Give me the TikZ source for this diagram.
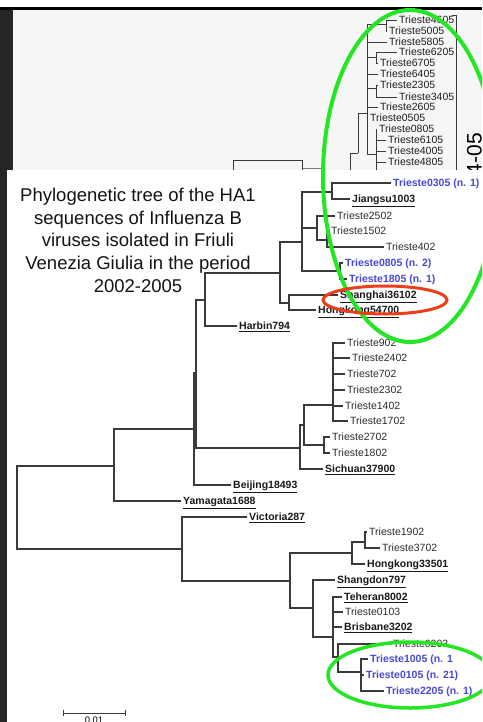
\documentclass[tikz,border=0pt]{standalone}
\usepackage{fontspec}
\setmainfont{Liberation Sans}
\definecolor{slidegray}{RGB}{246,246,246}
\definecolor{edgedark}{RGB}{38,38,38}
\definecolor{treeline}{RGB}{58,58,58}
\definecolor{labelgray}{RGB}{45,45,45}
\definecolor{isoblue}{RGB}{72,72,214}
\definecolor{ringgreen}{RGB}{36,230,36}
\definecolor{ringred}{RGB}{236,62,24}
\begin{document}
\begin{tikzpicture}[x=1pt,y=-1pt,
  branch/.style={draw=treeline, line width=1.2pt},
  bgbranch/.style={draw=treeline, line width=0.9pt},
  leaf/.style={anchor=west, inner xsep=2pt, inner ysep=0pt, text height=7.5pt, text depth=0pt,
    font=\fontsize{10.5}{12}\selectfont, text=labelgray},
  refstrain/.style={leaf, font=\fontsize{10.5}{12}\selectfont\bfseries, text=black!90},
  isolate/.style={leaf, font=\fontsize{10.5}{12}\selectfont\bfseries, text=isoblue},
  ring/.style={draw=ringgreen, line width=4pt},
]
\useasboundingbox (0,0) rectangle (482,722);
\clip (0,0) rectangle (482,722);

% slide background behind the panel
\fill[white] (0,0) rectangle (482,722);
\fill[black] (0,7) rectangle (482,10);
\fill[slidegray] (13,10) rectangle (482,170);
\fill[edgedark] (0,10) rectangle (13,722);

% tree of the 2004-05 season (behind the panel)
\foreach \n/\x/\y/\t in {
  b4605/397/20/Trieste4605, b5005/387/31/Trieste5005, b5805/387/42/Trieste5805,
  b6205/397/52/Trieste6205, b6705/378/63/Trieste6705, b6405/378/74/Trieste6405,
  b2305/378/85/Trieste2305, b3405/397/97/Trieste3405, b2605/378/107/Trieste2605,
  b0505/368/118/Trieste0505, b0805/377/129/Trieste0805, b6105/386/140/Trieste6105,
  b4005/386/151/Trieste4005, b4805/386/162/Trieste4805}
  \node[leaf, text=black!88] (\n) at (\x,\y) {\t};
\coordinate (t0) at (350,176);
\coordinate (t1) at (358,153);
\coordinate (t2) at (367,113);
\coordinate (tB) at (386,24);
\coordinate (tC) at (376,57);
\coordinate (tD) at (376,88);
\coordinate (tE) at (376,154);
\coordinate (tEdown) at (376,176);
\foreach \p/\c in {t0/t1, t1/t2, t2/tB, t2/b5805, t2/tC, t2/b6405, t2/tD, t2/b2605,
  t2/b0505, t2/tE, tB/b4605, tB/b5005, tC/b6205, tC/b6705, tD/b2305, tD/b3405,
  tE/b0805, tE/b6105, tE/b4005, tE/b4805}
  \draw[bgbranch] (\p) |- (\c);
\draw[bgbranch] (tE) -- (tEdown);
\node[draw=treeline, line width=0.9pt, minimum width=69pt, minimum height=20pt,
  anchor=north west, inner sep=0] (legendbox) at (233,160) {};
\coordinate (legendtail) at (322,168);
\draw[bgbranch, draw=gray] (legendbox.east |- legendtail) -- (legendtail);
\coordinate (brackettop) at (452,15);
\coordinate (bracketfoot) at (456,176);
\draw[bgbranch] (brackettop) -| (bracketfoot);
\node[rotate=90, anchor=south east, inner sep=0, font=\fontsize{21}{24}\selectfont]
  (season) at (482,133) {4-05};

% front panel
\fill[white] (7,170) rectangle (482,722);

% title
\node[align=center, anchor=north, inner sep=0, text=black!92,
  font=\fontsize{18.5}{22.6}\selectfont] (title) at (138,188)
  {Phylogenetic tree of the HA1\\sequences of Influenza B\\viruses isolated in Friuli\\Venezia Giulia in the period\\2002-2005};

% leaves of the HA1 tree
\foreach \n/\x/\y/\t in {
  l0305/391/183/{Trieste0305 (n. 1)}, l0805/343/263/{Trieste0805 (n. 2)},
  l1805/347/279/{Trieste1805 (n. 1)}, l1005/368/659/{Trieste1005 (n. 1},
  l0105/364/675/{Trieste0105 (n. 21)}, l2205/384/691/{Trieste2205 (n. 1)}}
  \node[isolate] (\n) at (\x,\y) {\t};
\foreach \n/\x/\y/\t in {
  lJiangsu/350/199/Jiangsu1003, lShanghai/338/295/Shanghai36102,
  lHKa/316/310/Hongkong54700, lHarbin/237/326/Harbin794,
  lSichuan/323/469/Sichuan37900, lBeijing/231/485/Beijing18493,
  lYamagata/181/501/Yamagata1688, lVictoria/247/517/Victoria287,
  lHKb/365/564/Hongkong33501, lShangdon/335/580/Shangdon797,
  lTeheran/342/597/Teheran8002, lBrisbane/342/627/Brisbane3202}
  \node[refstrain] (\n) at (\x,\y) {\underline{\t}};
\foreach \n/\x/\y/\t in {
  l2502/335/216/Trieste2502, l1502/329/231/Trieste1502, l402/384/247/Trieste402,
  l902/345/343/Trieste902, l2402/350/358/Trieste2402, l702/345/374/Trieste702,
  l2302/345/390/Trieste2302, l1402/343/406/Trieste1402, l1702/348/421/Trieste1702,
  l2702/330/437/Trieste2702, l1802/330/453/Trieste1802, l1902/367/532/Trieste1902,
  l3702/380/548/Trieste3702, l0103/343/612/Trieste0103, l0203/391/644/Trieste0203}
  \node[leaf] (\n) at (\x,\y) {\t};

% internal nodes
\foreach \n/\x/\y in {
  nRoot/17/507, nC/114/466, nA/194/429, nB/196/373, nH/205/300, nJ/280/273,
  nK/302/242, nL/332/192, nM/317/228, nN/327/240, nO/340/271, nP/289/303,
  nQ/300/448, nR/304/425, nS/333/405, nT/324/445, nV/182/549, nW/290/581,
  nX/352/553, nY/365/542, nZ/313/608, nAA/333/637, nAB/338/657, nAC/361/672}
  \coordinate (\n) at (\x,\y);

% branches
\foreach \p/\c in {
  nRoot/nC, nRoot/nV, nC/nA, nC/lYamagata, nA/nB, nA/lBeijing, nB/nH, nB/nQ,
  nH/nJ, nH/lHarbin, nJ/nK, nJ/nP, nK/nL, nK/nM, nK/nO, nL/l0305, nL/lJiangsu,
  nM/l2502, nM/nN, nN/l1502, nN/l402, nO/l0805, nO/l1805, nP/lShanghai, nP/lHKa,
  nQ/nR, nQ/lSichuan, nR/nS, nR/nT, nS/l902, nS/l2402, nS/l702, nS/l2302,
  nS/l1402, nS/l1702, nT/l2702, nT/l1802, nV/lVictoria, nV/nW, nW/nX, nW/nZ,
  nX/nY, nX/lHKb, nY/l1902, nY/l3702, nZ/lShangdon, nZ/nAA, nAA/lTeheran,
  nAA/l0103, nAA/lBrisbane, nAA/nAB, nAB/l0203, nAB/nAC, nAC/l1005,
  nAC/l0105, nAC/l2205}
  \draw[branch] (\p) |- (\c);

% scale bar
\coordinate (sbL) at (63,713);
\coordinate (sbR) at (125,713);
\draw[branch, line width=1pt] (sbL) -- (sbR);
\draw[branch, line width=1pt] ([yshift=3pt]sbL) -- ([yshift=-3pt]sbL);
\draw[branch, line width=1pt] ([yshift=3pt]sbR) -- ([yshift=-3pt]sbR);
\node[anchor=north, inner sep=0, font=\fontsize{9.5}{11}\selectfont] (sblabel) at (94,716.5) {0.01};

% highlight rings
\draw[ring] (410,176) ellipse [x radius=87pt, y radius=166pt];
\draw[ring, line width=3.5pt] (410,675) ellipse [x radius=82pt, y radius=33pt];
\draw[draw=ringred, line width=3pt] (385,300) ellipse [x radius=62pt, y radius=14pt];
\end{tikzpicture}
\end{document}
